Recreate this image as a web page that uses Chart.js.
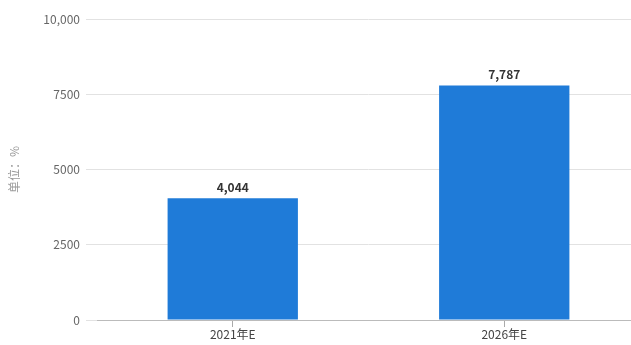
<!DOCTYPE html>
<html>
<head>
<meta charset="utf-8">
<script src="https://cdn.jsdelivr.net/npm/chart.js@4/dist/chart.umd.min.js"></script>
<style>
html,body{margin:0;padding:0;background:#fff;overflow:hidden;}
#wrap{width:640px;height:345px;position:relative;}
</style>
</head>
<body>
<div id="wrap"><canvas id="c"></canvas></div>
<script>
const categories = ['2021年E', '2026年E'];
const values = [4044, 7787];
const valueLabels = ['4,044', '7,787'];
const yTickValues = [0, 2500, 5000, 7500, 10000];
const yTickLabels = ['0', '2500', '5000', '7500', '10,000'];
const yTitle = '单位：%';

const FONT = "'Noto Sans CJK SC', 'Noto Sans', sans-serif";

const labelPlugin = {
  id: 'valLabels',
  afterDatasetsDraw(chart) {
    const ctx = chart.ctx;
    const meta = chart.getDatasetMeta(0);
    ctx.save();
    ctx.font = "bold 12px " + FONT;
    ctx.fillStyle = '#333';
    ctx.textAlign = 'center';
    ctx.textBaseline = 'bottom';
    meta.data.forEach((bar, i) => {
      ctx.fillText(valueLabels[i], bar.x, bar.y - 5);
    });
    ctx.restore();
  }
};

new Chart(document.getElementById('c'), {
  type: 'bar',
  data: {
    labels: categories,
    datasets: [{
      data: values,
      backgroundColor: '#1f7bd8',
      barPercentage: 0.48,
      categoryPercentage: 1.0
    }]
  },
  options: {
    responsive: true,
    maintainAspectRatio: false,
    animation: false,
    layout: { padding: { top: 19, right: 0, left: 0, bottom: 0 } },
    plugins: { legend: { display: false }, tooltip: { enabled: false } },
    scales: {
      x: {
        grid: { display: true, offset: false, drawOnChartArea: false, drawTicks: true, tickLength: 7, color: '#aaa' },
        border: { display: true, color: '#bbb', width: 1 },
        ticks: { color: '#444', font: { family: FONT, size: 12 }, padding: 0 },
        afterFit(scale) { scale.height = 25; }
      },
      y: {
        min: 0, max: 10000,
        afterBuildTicks(scale) { scale.ticks = yTickValues.map(v => ({ value: v })); },
        grid: { color: '#e2e2e2', tickLength: 11 },
        border: { display: false },
        ticks: {
          color: '#666', font: { family: FONT, size: 12 }, padding: 6,
          callback(v) { const i = yTickValues.indexOf(v); return i >= 0 ? yTickLabels[i] : ''; }
        },
        title: { display: true, text: yTitle, color: '#999', font: { family: FONT, size: 12 }, padding: { top: 7, bottom: 0 } },
        afterFit(scale) { scale.width = 97; }
      }
    }
  },
  plugins: [labelPlugin]
});
</script>
</body>
</html>
